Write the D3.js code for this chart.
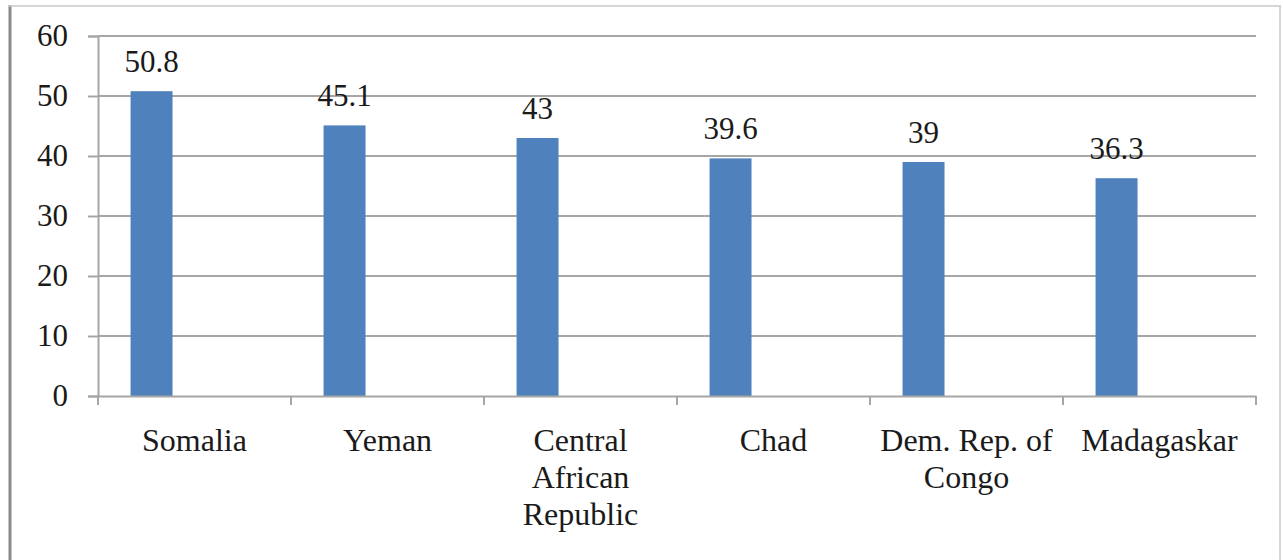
<!DOCTYPE html>
<html>
<head>
<meta charset="utf-8">
<script src="https://cdn.jsdelivr.net/npm/d3@7"></script>
<style>
  body { margin: 0; background: #fff; }
  svg text { font-family: "Liberation Serif", "Times New Roman", serif; fill: #1a1a1a; }
</style>
</head>
<body>
<script>
// data
var countries = ["Somalia", "Yeman", "Central African Republic", "Chad", "Dem. Rep. of Congo", "Madagaskar"];
var labelLines = [["Somalia"], ["Yeman"], ["Central", "African", "Republic"], ["Chad"], ["Dem. Rep. of", "Congo"], ["Madagaskar"]];
var values = [50.8, 45.1, 43, 39.6, 39, 36.3];
var yTicks = [0, 10, 20, 30, 40, 50, 60];
var seriesSlots = ["value", "blank1", "blank2"];

// set the dimensions and margins of the graph
var margin = {top: 36, right: 27, bottom: 164, left: 98},
    width = 1283 - margin.left - margin.right,
    height = 560 - margin.top - margin.bottom;

var svg = d3.select("body").append("svg")
    .attr("width", 1283)
    .attr("height", 560);

// chart frame
svg.append("line").attr("x1", 10).attr("x2", 10).attr("y1", 5).attr("y2", 560)
    .attr("stroke", "#8a8a8a").attr("stroke-width", 3);
svg.append("line").attr("x1", 9).attr("x2", 1281).attr("y1", 6).attr("y2", 6)
    .attr("stroke", "#c8c8c8").attr("stroke-width", 1.5);
svg.append("line").attr("x1", 1280).attr("x2", 1280).attr("y1", 6).attr("y2", 560)
    .attr("stroke", "#c8c8c8").attr("stroke-width", 1.5);

var g = svg.append("g")
    .attr("transform", "translate(" + margin.left + "," + margin.top + ")");

// set the ranges
var x0 = d3.scaleBand().domain(countries).range([0, width]).padding(0);
var x1 = d3.scaleBand().domain(seriesSlots).range([0, x0.bandwidth()])
    .paddingInner(0).paddingOuter(0.8);
var y = d3.scaleLinear().domain([0, 60]).range([height, 0]);

// gridlines
g.selectAll(".grid").data(yTicks.filter(function(d) { return d > 0; }))
  .enter().append("line")
    .attr("x1", 0).attr("x2", width)
    .attr("y1", function(d) { return y(d); })
    .attr("y2", function(d) { return y(d); })
    .attr("stroke", "#a6a6a6").attr("stroke-width", 2);

// bars
g.selectAll(".bar").data(values)
  .enter().append("rect")
    .attr("x", function(d, i) { return x0(countries[i]) + x1("value") - 1; })
    .attr("y", function(d) { return y(d); })
    .attr("width", x1.bandwidth())
    .attr("height", function(d) { return height - y(d); })
    .attr("fill", "#4f81bd");

// value labels
g.selectAll(".val").data(values)
  .enter().append("text")
    .attr("x", function(d, i) { return x0(countries[i]) + x1("value") + x1.bandwidth() / 2 - 1; })
    .attr("y", function(d) { return y(d) - 19; })
    .attr("text-anchor", "middle")
    .style("font-size", "31px")
    .text(function(d) { return d; });

// y axis
var yAxis = g.append("g")
    .call(d3.axisLeft(y).tickValues(yTicks).tickSize(10).tickPadding(20));
yAxis.select(".domain").attr("stroke", "#a6a6a6").attr("stroke-width", 2);
yAxis.selectAll(".tick line").attr("stroke", "#a6a6a6").attr("stroke-width", 2);
yAxis.selectAll(".tick text").style("font-size", "31px").attr("fill", "#1a1a1a")
    .style("font-family", "'Liberation Serif', serif");

// x axis
var xAxis = g.append("g")
    .attr("transform", "translate(0," + height + ")")
    .call(d3.axisBottom(x0).tickSize(0).tickFormat(""));
xAxis.select(".domain").attr("stroke", "#a6a6a6").attr("stroke-width", 2);
xAxis.selectAll(".tick").remove();

// category boundary ticks
var bounds = countries.map(function(c) { return x0(c); }).concat([width]);
xAxis.selectAll(".bound").data(bounds)
  .enter().append("line")
    .attr("x1", function(d) { return d; }).attr("x2", function(d) { return d; })
    .attr("y1", 0).attr("y2", 9)
    .attr("stroke", "#a6a6a6").attr("stroke-width", 2);

// category labels
var cat = g.selectAll(".cat").data(labelLines)
  .enter().append("text")
    .attr("transform", function(d, i) {
      return "translate(" + (x0(countries[i]) + x0.bandwidth() / 2) + "," + (height + 55) + ")";
    })
    .attr("text-anchor", "middle")
    .style("font-size", "32px");
cat.selectAll("tspan").data(function(d) { return d; })
  .enter().append("tspan")
    .attr("x", 0)
    .attr("dy", function(d, i) { return i === 0 ? 0 : 37; })
    .text(function(d) { return d; });
</script>
</body>
</html>
